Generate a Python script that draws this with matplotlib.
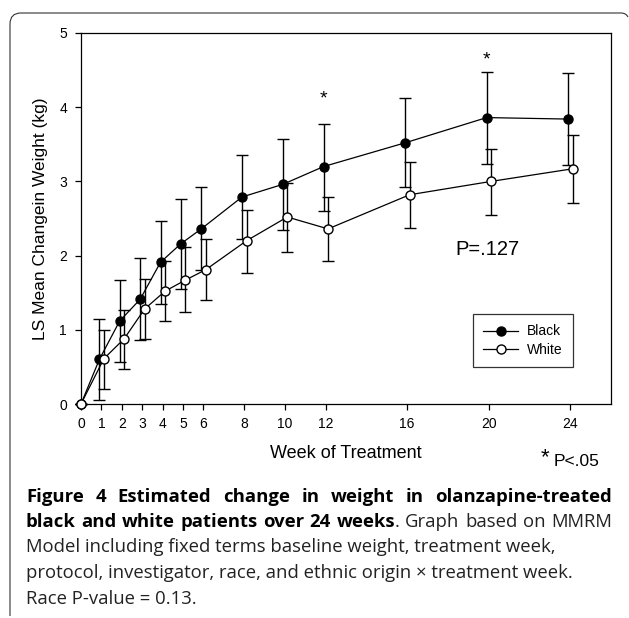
import numpy as np
import matplotlib
matplotlib.use('Agg')
import matplotlib.pyplot as plt
from matplotlib.lines import Line2D
from matplotlib.path import Path
from matplotlib.patches import PathPatch
from matplotlib.transforms import Affine2D

# Data (LS mean change in weight, kg)
weeks = np.array([0, 1, 2, 3, 4, 5, 6, 8, 10, 12, 16, 20, 24])
black_mean = np.array([0, 0.60, 1.12, 1.41, 1.91, 2.16, 2.36, 2.79, 2.96, 3.20, 3.52, 3.86, 3.84])
black_low = np.array([0, 0.05, 0.56, 0.86, 1.35, 1.55, 1.80, 2.22, 2.35, 2.60, 2.92, 3.24, 3.22])
black_high = np.array([0, 1.14, 1.67, 1.97, 2.47, 2.76, 2.92, 3.36, 3.57, 3.78, 4.12, 4.48, 4.46])
white_mean = np.array([0, 0.61, 0.88, 1.28, 1.52, 1.67, 1.81, 2.20, 2.52, 2.36, 2.82, 3.00, 3.17])
white_low = np.array([0, 0.20, 0.47, 0.88, 1.12, 1.24, 1.40, 1.77, 2.05, 1.93, 2.37, 2.55, 2.71])
white_high = np.array([0, 1.00, 1.27, 1.68, 1.93, 2.11, 2.22, 2.61, 2.98, 2.79, 3.26, 3.44, 3.62])
sig_weeks = [12, 20]
sig_y = [4.11, 4.64]

W, H = 629, 618
plt.rcParams['font.family'] = ['Liberation Sans', 'DejaVu Sans']
fig = plt.figure(figsize=(W / 100, H / 100), dpi=100)
ax = fig.add_axes([81 / W, 1 - 404 / H, 530 / W, 371 / H])

xb = np.where(weeks == 0, 0, weeks - 0.1)
xw = np.where(weeks == 0, 0, weeks + 0.12)

style = dict(fmt='-o', color='black', mec='black', ms=6.5, lw=0.9,
             elinewidth=1.0, capsize=4, capthick=1.0, clip_on=False)
ax.errorbar(xb, black_mean, yerr=[black_mean - black_low, black_high - black_mean],
            mfc='black', zorder=3, **style)
ax.errorbar(xw, white_mean, yerr=[white_mean - white_low, white_high - white_mean],
            mfc='white', zorder=4, **style)

# significance stars above the black error bars
for wk, sy in zip(sig_weeks, sig_y):
    i = list(weeks).index(wk)
    ax.text(xb[i], sy, '*', ha='center', va='center', fontsize=14)

ax.text(19.96, 2.08, 'P=.127', ha='center', va='center', fontsize=14.5)

ax.set_xlim(0, 26)
ax.set_ylim(0, 5)
ax.set_xticks(weeks)
ax.set_yticks(range(6))
ax.tick_params(direction='out', length=4, width=0.9, labelsize=10, top=False, right=False)
ax.tick_params(axis='x', pad=5)
ax.tick_params(axis='y', pad=6)
for s in ax.spines.values():
    s.set_linewidth(0.9)

ax.set_xlabel('Week of Treatment', fontsize=13)
ax.xaxis.set_label_coords(0.5, -0.11)
ax.set_ylabel('LS Mean Changein Weight (kg)', fontsize=12.5)
ax.yaxis.set_label_coords(-0.062, 0.5)

handles = [Line2D([], [], color='black', marker='o', mfc='black', mec='black', ms=6.5, lw=0.9),
           Line2D([], [], color='black', marker='o', mfc='white', mec='black', ms=6.5, lw=0.9)]
leg = ax.legend(handles, ['Black', 'White'], loc='upper left', bbox_to_anchor=(0.7396, 0.2426),
                borderaxespad=0, fancybox=False, edgecolor='black', fontsize=10,
                handlelength=2.5, handletextpad=0.6, labelspacing=0.3, borderpad=0.75)
leg.get_frame().set_linewidth(0.9)

fig.text(545 / W, 1 - 458 / H, '*', ha='center', va='center', fontsize=16)
fig.text(577 / W, 1 - 462 / H, 'P<.05', ha='center', va='center', fontsize=12.5)

# caption
cap_font = ['Open Sans', 'DejaVu Sans']
fs = 13.3
x0, x1 = 26, 612
renderer = fig.canvas.get_renderer()


def justified(tokens, base):
    # tokens: (text, bold, space_before); spread words to fill x0..x1
    arts = []
    for txt, bold, _ in tokens:
        arts.append(fig.text(0, 1 - base / H, txt, fontsize=fs, family=cap_font,
                             fontweight='bold' if bold else 'normal', va='baseline',
                             color='black' if bold else '#222222'))
    widths = [a.get_window_extent(renderer).width for a in arts]
    ngap = sum(1 for t in tokens[1:] if t[2])
    gap = (x1 - x0 - sum(widths)) / ngap
    x = x0
    for a, w, t in zip(arts, widths, tokens):
        if t[2] and a is not arts[0]:
            x += gap
        a.set_x(x / W)
        x += w


line1 = 'Figure 4 Estimated change in weight in olanzapine-treated'.split()
justified([(w, True, True) for w in line1], 501.5)
line2 = [(w, True, True) for w in 'black and white patients over 24 weeks'.split()]
line2 += [('.', False, False)] + [(w, False, True) for w in 'Graph based on MMRM'.split()]
justified(line2, 527)

rest = ['Model including fixed terms baseline weight, treatment week,',
        'protocol, investigator, race, and ethnic origin \u00d7 treatment week.',
        'Race P-value = 0.13.']
for k, line in enumerate(rest):
    fig.text(x0 / W, 1 - (552.5 + 25.5 * k) / H, line, fontsize=fs, family=cap_font,
             va='baseline', color='#222222')

# outer frame (top and left edges with rounded corners)
px = Affine2D().scale(1 / W, -1 / H).translate(0, 1) + fig.transFigure
frame = Path([(10, 616), (10, 24), (10, 13), (21, 13), (621, 13), (626, 13), (628, 17)],
             [Path.MOVETO, Path.LINETO, Path.CURVE3, Path.CURVE3, Path.LINETO,
              Path.CURVE3, Path.CURVE3])
fig.patches.append(PathPatch(frame, transform=px, fill=False, lw=0.8, ec='#333333'))

fig.savefig('out.png', dpi=100)
